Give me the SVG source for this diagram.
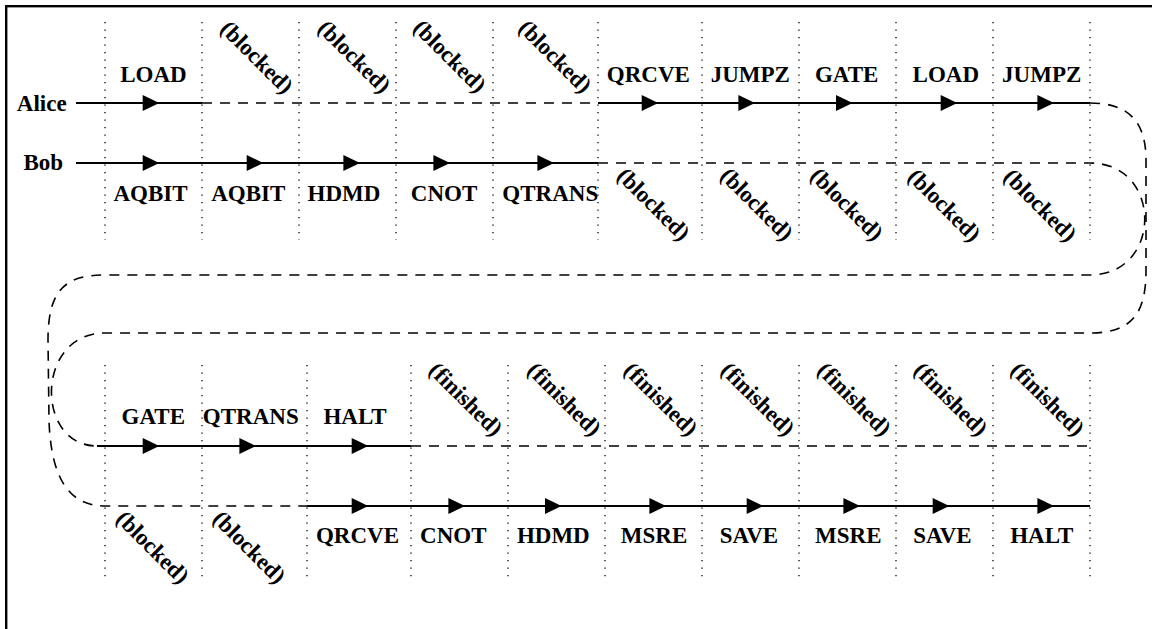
<svg xmlns="http://www.w3.org/2000/svg" xmlns:xlink="http://www.w3.org/1999/xlink" width="1152" height="629" viewBox="0 0 1152 629">
<style>
  .lbl { font-family: "Liberation Serif", "Times New Roman", serif; font-weight: bold; font-size: 23px; fill: #000; text-anchor: middle; }
  .who { font-family: "Liberation Serif", "Times New Roman", serif; font-weight: bold; font-size: 23px; fill: #000; text-anchor: middle; }
  .grid { stroke: #000; stroke-width: 1.3; stroke-dasharray: 1.3 6.2; fill: none; }
  .solid { stroke: #000; stroke-width: 1.8; fill: none; }
  .dash { stroke: #000; stroke-width: 1.6; fill: none; stroke-dasharray: 10 8; }
</style>
<defs>
  <path id="ah" d="M-8.3,-8 L8.3,0 L-8.3,8 Z" fill="#000"/>
</defs>
<rect width="1152" height="629" fill="#fff"/>
<rect id="frame" x="6.2" y="6.2" width="1200" height="700" fill="none" stroke="#000" stroke-width="2.4"/>

<g id="grid">
  <path class="grid" d="M105,22V240M202,22V240M299,22V240M396,22V240M493,22V240M598,22V240M702,22V240M799,22V240M896,22V240M993,22V240M1090,22V240"/>
  <path class="grid" d="M105,365V582M202,365V582M307,365V582M411,365V582M508,365V582M605,365V582M702,365V582M799,365V582M896,365V582M993,365V582M1090,365V582"/>
</g>

<g id="connectors">
  <path class="solid" d="M76,103H202M598,103H1090"/>
  <path class="dash" d="M202,103H598"/>
  <path class="dash" d="M1090,103C1125,103 1146,118 1146,160L1146,270C1146,310 1135,333 1090,333H105C35,333 35,446 97,446"/>
  <path class="solid" d="M97,446H411"/>
  <path class="dash" d="M411,446H1090"/>
  <path class="solid" d="M76,163H598"/>
  <path class="dash" d="M598,163H1090C1163,163 1163,275 1090,275H105C65,275 48,290 48,340L49,420C51,480 70,506 105,506H307"/>
  <path class="solid" d="M307,506H1090"/>
</g>

<g id="lane-alice"><text class="who" x="41.7" y="110.5">Alice</text></g>
<g id="lane-bob"><text class="who" x="43.3" y="170">Bob</text></g>

<g id="alice-steps">
  <g id="a1"><text class="lbl" x="153.5" y="81.5">LOAD</text><use href="#ah" x="151" y="103"/></g>
  <g id="a2"><text class="lbl" transform="translate(255,59) rotate(45)" y="5">(blocked)</text></g>
  <g id="a3"><text class="lbl" transform="translate(352.5,58.5) rotate(45)" y="5">(blocked)</text></g>
  <g id="a4"><text class="lbl" transform="translate(448,58) rotate(45)" y="5">(blocked)</text></g>
  <g id="a5"><text class="lbl" transform="translate(553.3,58.3) rotate(45)" y="5">(blocked)</text></g>
  <g id="a6"><text class="lbl" x="648.3" y="81.5">QRCVE</text><use href="#ah" x="650" y="103"/></g>
  <g id="a7"><text class="lbl" x="750.3" y="81.5">JUMPZ</text><use href="#ah" x="746.7" y="103"/></g>
  <g id="a8"><text class="lbl" x="846.7" y="81.5">GATE</text><use href="#ah" x="844.3" y="103"/></g>
  <g id="a9"><text class="lbl" x="945.8" y="81.5">LOAD</text><use href="#ah" x="949" y="103"/></g>
  <g id="a10"><text class="lbl" x="1041.7" y="81.5">JUMPZ</text><use href="#ah" x="1045.7" y="103"/></g>
  <g id="a11"><text class="lbl" x="153.3" y="424">GATE</text><use href="#ah" x="151" y="446"/></g>
  <g id="a12"><text class="lbl" x="250.8" y="424">QTRANS</text><use href="#ah" x="247.7" y="446"/></g>
  <g id="a13"><text class="lbl" x="355" y="424">HALT</text><use href="#ah" x="360" y="446"/></g>
  <g id="a14"><text class="lbl" transform="translate(464,401) rotate(45)" y="5">(finished)</text></g>
  <g id="a15"><text class="lbl" transform="translate(562.5,401) rotate(45)" y="5">(finished)</text></g>
  <g id="a16"><text class="lbl" transform="translate(659,401) rotate(45)" y="5">(finished)</text></g>
  <g id="a17"><text class="lbl" transform="translate(756,401) rotate(45)" y="5">(finished)</text></g>
  <g id="a18"><text class="lbl" transform="translate(852.5,401) rotate(45)" y="5">(finished)</text></g>
  <g id="a19"><text class="lbl" transform="translate(949,401) rotate(45)" y="5">(finished)</text></g>
  <g id="a20"><text class="lbl" transform="translate(1045.8,401) rotate(45)" y="5">(finished)</text></g>
</g>

<g id="bob-steps">
  <g id="b1"><text class="lbl" x="150.5" y="200.5">AQBIT</text><use href="#ah" x="151" y="163"/></g>
  <g id="b2"><text class="lbl" x="248.3" y="200.5">AQBIT</text><use href="#ah" x="255" y="163"/></g>
  <g id="b3"><text class="lbl" x="344" y="200.5">HDMD</text><use href="#ah" x="351.7" y="163"/></g>
  <g id="b4"><text class="lbl" x="444" y="200.5">CNOT</text><use href="#ah" x="441.7" y="163"/></g>
  <g id="b5"><text class="lbl" x="550.3" y="200.5">QTRANS</text><use href="#ah" x="545.7" y="163"/></g>
  <g id="b6"><text class="lbl" transform="translate(651.7,206) rotate(45)" y="5">(blocked)</text></g>
  <g id="b7"><text class="lbl" transform="translate(755,206) rotate(45)" y="5">(blocked)</text></g>
  <g id="b8"><text class="lbl" transform="translate(845,206) rotate(45)" y="5">(blocked)</text></g>
  <g id="b9"><text class="lbl" transform="translate(942.5,207) rotate(45)" y="5">(blocked)</text></g>
  <g id="b10"><text class="lbl" transform="translate(1038.3,207) rotate(45)" y="5">(blocked)</text></g>
  <g id="b11"><text class="lbl" transform="translate(150.8,549) rotate(45)" y="5">(blocked)</text></g>
  <g id="b12"><text class="lbl" transform="translate(247.5,549) rotate(45)" y="5">(blocked)</text></g>
  <g id="b13"><text class="lbl" x="357.5" y="543.3">QRCVE</text><use href="#ah" x="360" y="506"/></g>
  <g id="b14"><text class="lbl" x="453.3" y="543.3">CNOT</text><use href="#ah" x="456.7" y="506"/></g>
  <g id="b15"><text class="lbl" x="553.3" y="543.3">HDMD</text><use href="#ah" x="553.3" y="506"/></g>
  <g id="b16"><text class="lbl" x="654" y="543.3">MSRE</text><use href="#ah" x="657.7" y="506"/></g>
  <g id="b17"><text class="lbl" x="749" y="543.3">SAVE</text><use href="#ah" x="755" y="506"/></g>
  <g id="b18"><text class="lbl" x="848.3" y="543.3">MSRE</text><use href="#ah" x="851.7" y="506"/></g>
  <g id="b19"><text class="lbl" x="942.5" y="543.3">SAVE</text><use href="#ah" x="941" y="506"/></g>
  <g id="b20"><text class="lbl" x="1041.7" y="543.3">HALT</text><use href="#ah" x="1045.7" y="506"/></g>
</g>
</svg>
